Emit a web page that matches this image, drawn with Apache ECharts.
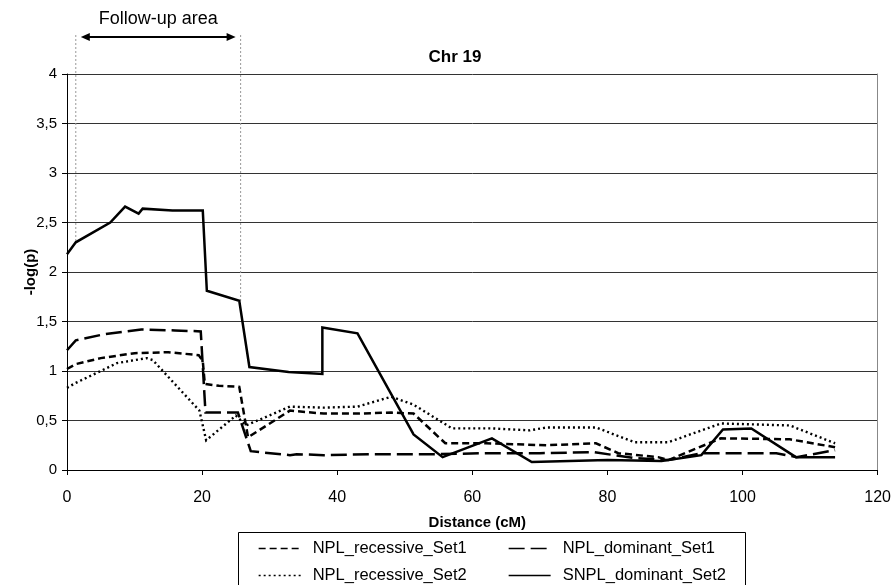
<!DOCTYPE html>
<html>
<head>
<meta charset="utf-8">
<script src="https://cdn.jsdelivr.net/npm/echarts@6/dist/echarts.min.js"></script>
<style>
html,body{margin:0;padding:0;background:#fff;}
#c{width:894px;height:585px;}
</style>
</head>
<body>
<div id="c"></div>
<script>
// ---- data (distance cM, -log(p)) ----
const X_TICKS = [0, 20, 40, 60, 80, 100, 120];
const Y_TICKS = [0, 0.5, 1, 1.5, 2, 2.5, 3, 3.5, 4];
const SERIES_NAMES = ['NPL_recessive_Set1', 'NPL_dominant_Set1', 'NPL_recessive_Set2', 'SNPL_dominant_Set2'];

const nplRecessiveSet1 = [
  [0,1.02],[1.3,1.07],[5,1.13],[10,1.18],[15,1.19],[19.5,1.16],[20.1,1.10],[20.4,0.87],[22.5,0.85],[25.5,0.84],
  [26.8,0.33],[33,0.60],[38,0.57],[43,0.57],[48,0.58],[51.3,0.57],[56,0.27],[62,0.27],[71,0.25],[78.3,0.27],
  [81.6,0.17],[87.5,0.13],[89,0.10],[96.8,0.32],[107,0.31],[113.7,0.23]
];
const nplDominantSet1 = [
  [0,1.21],[1.3,1.31],[5.4,1.37],[11,1.42],[16,1.41],[19.8,1.40],[20.5,0.58],[25.3,0.58],[27.2,0.19],[33,0.15],
  [34,0.16],[38,0.15],[45,0.16],[55,0.16],[62,0.17],[70,0.17],[78,0.18],[84,0.12],[89,0.10],[94,0.17],
  [105,0.17],[108,0.13],[113.7,0.20]
];
const nplRecessiveSet2 = [
  [0,0.83],[1.3,0.88],[5.3,1.01],[7.4,1.08],[11.8,1.13],[12.7,1.11],[19.6,0.60],[20.6,0.30],[25,0.55],[26.5,0.45],
  [33,0.64],[38,0.63],[43,0.64],[48,0.74],[51.3,0.66],[57,0.42],[63,0.42],[68.5,0.40],[71,0.43],[78.3,0.43],
  [84,0.28],[89,0.28],[96.8,0.47],[107,0.45],[113.7,0.27]
];
const snplDominantSet2 = [
  [0,2.18],[1.3,2.30],[6.4,2.50],[8.6,2.66],[10.6,2.59],[11.2,2.64],[15.6,2.62],[20.1,2.62],[20.7,1.81],[25.5,1.71],
  [27,1.04],[32.8,0.99],[37.8,0.97],[37.8,1.44],[43,1.38],[51.3,0.36],[55.6,0.13],[62.9,0.32],[68.8,0.08],[80,0.10],
  [88,0.09],[93.9,0.15],[97.1,0.41],[101.3,0.42],[107.9,0.13],[113.7,0.13]
];
// follow-up area bounds (cM) and where the guide lines end (-log(p))
const FOLLOW_UP_X = [1.3, 25.7];
const FOLLOW_UP_END = [2.30, 1.71];

const FONT = '"Liberation Sans", Arial, sans-serif';
const chart = echarts.init(document.getElementById('c'), null, {renderer: 'canvas'});

function lineSeries(name, data, type, width) {
  return {
    name: name, type: 'line', data: data, symbol: 'none', showSymbol: false,
    animation: false, silent: true,
    lineStyle: {color: '#000', width: width, type: type, cap: 'butt', join: 'miter'},
    itemStyle: {color: '#000'}
  };
}

const legendCommon = {
  orient: 'vertical', top: 540, height: 60, padding: 0,
  itemWidth: 42, itemHeight: 16, itemGap: 10,
  selectedMode: false,
  lineStyle: {width: 1.3},
  itemStyle: {opacity: 0},
  textStyle: {fontFamily: FONT, fontSize: 16.5, color: '#000', padding: [0, 0, 0, 7]}
};

chart.setOption({
  backgroundColor: '#fff',
  animation: false,
  textStyle: {fontFamily: FONT},
  title: {
    text: 'Chr 19', left: 455, top: 49, textAlign: 'center', padding: 0,
    textStyle: {fontFamily: FONT, fontSize: 17, fontWeight: 'bold', color: '#000'}
  },
  grid: {left: 67, right: 14, top: 74, bottom: 115, containLabel: false},
  legend: [
    Object.assign({}, legendCommon, {left: 258, data: [SERIES_NAMES[0], SERIES_NAMES[2]]}),
    Object.assign({}, legendCommon, {left: 508, data: [SERIES_NAMES[1], SERIES_NAMES[3]]})
  ],
  xAxis: {
    type: 'value', min: X_TICKS[0], max: X_TICKS[X_TICKS.length - 1], interval: 20,
    name: 'Distance (cM)', nameLocation: 'middle', nameGap: 45, nameMoveOverlap: false,
    nameTextStyle: {fontFamily: FONT, fontSize: 15, fontWeight: 'bold', color: '#000', padding: [0, 0, 0, 10]},
    axisLine: {show: true, onZero: false, lineStyle: {color: '#000', width: 1}},
    axisTick: {show: true, inside: false, length: 5, lineStyle: {color: '#000'}},
    axisLabel: {fontFamily: FONT, fontSize: 16, color: '#000', margin: 20},
    splitLine: {show: false}
  },
  yAxis: [{
    type: 'value', min: Y_TICKS[0], max: Y_TICKS[Y_TICKS.length - 1], interval: 0.5,
    name: '-log(p)', nameLocation: 'middle', nameGap: 29, nameRotate: 90, nameMoveOverlap: false,
    nameTextStyle: {fontFamily: FONT, fontSize: 15, fontWeight: 'bold', color: '#000'},
    axisLine: {show: true, lineStyle: {color: '#000', width: 1}},
    axisTick: {show: true, inside: false, length: 5, lineStyle: {color: '#000'}},
    axisLabel: {fontFamily: FONT, fontSize: 15, color: '#000', margin: 10,
      formatter: v => String(v).replace('.', ',')},
    splitLine: {show: true, lineStyle: {color: '#333', width: 1}}
  }, {
    type: 'value', min: Y_TICKS[0], max: Y_TICKS[Y_TICKS.length - 1], interval: 0.5,
    position: 'right',
    axisLine: {show: true, lineStyle: {color: '#888', width: 1}},
    axisTick: {show: false}, axisLabel: {show: false}, splitLine: {show: false}
  }],
  series: [
    lineSeries(SERIES_NAMES[0], nplRecessiveSet1, [7, 4], 2.5),
    lineSeries(SERIES_NAMES[1], nplDominantSet1, [16, 6], 2.5),
    lineSeries(SERIES_NAMES[2], nplRecessiveSet2, [2, 3], 2.4),
    lineSeries(SERIES_NAMES[3], snplDominantSet2, 'solid', 2.5)
  ]
});

// Annotation: follow-up area guides, arrow and label
const pL = chart.convertToPixel({xAxisIndex: 0, yAxisIndex: 0}, [FOLLOW_UP_X[0], FOLLOW_UP_END[0]]);
const pR = chart.convertToPixel({xAxisIndex: 0, yAxisIndex: 0}, [FOLLOW_UP_X[1], FOLLOW_UP_END[1]]);
const topY = 35, arrowY = 37, inset = 5, head = 9, hh = 4;
const ax1 = pL[0] + inset, ax2 = pR[0] - inset;
chart.setOption({
  graphic: [
    {type: 'line', z: 1, shape: {x1: pL[0], y1: topY, x2: pL[0], y2: pL[1]},
      style: {stroke: '#999', lineWidth: 1, lineDash: [2, 2]}},
    {type: 'line', z: 1, shape: {x1: pR[0], y1: topY, x2: pR[0], y2: pR[1]},
      style: {stroke: '#999', lineWidth: 1, lineDash: [2, 2]}},
    {type: 'line', shape: {x1: ax1 + head - 2, y1: arrowY, x2: ax2 - head + 2, y2: arrowY},
      style: {stroke: '#000', lineWidth: 2}},
    {type: 'polygon', shape: {points: [[ax1, arrowY], [ax1 + head, arrowY - hh], [ax1 + head, arrowY + hh]]},
      style: {fill: '#000'}},
    {type: 'polygon', shape: {points: [[ax2, arrowY], [ax2 - head, arrowY - hh], [ax2 - head, arrowY + hh]]},
      style: {fill: '#000'}},
    {type: 'text', x: (ax1 + ax2) / 2, y: 19,
      style: {text: 'Follow-up area', fontFamily: FONT, fontSize: 18, fill: '#000', align: 'center', verticalAlign: 'middle'}},
    {type: 'rect', shape: {x: 238.5, y: 532.5, width: 507, height: 70},
      style: {fill: 'none', stroke: '#000', lineWidth: 1}}
  ]
});
</script>
</body>
</html>
